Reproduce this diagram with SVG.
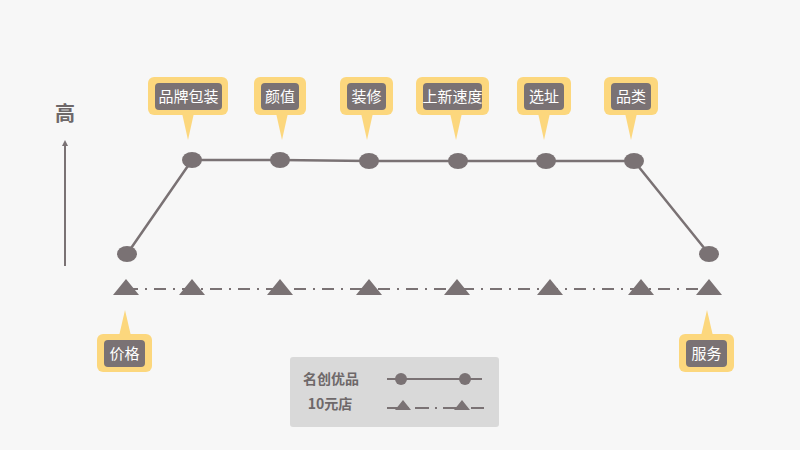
<svg xmlns="http://www.w3.org/2000/svg" width="800" height="450" viewBox="0 0 800 450">
<defs><style>
.o{fill:#fcd77d}.i{fill:#7a7274}.t{fill:#fff;font-family:"Noto Sans CJK SC",sans-serif;font-size:15px;text-anchor:middle}
.n{fill:#7a7274}.l{stroke:#7a7274;stroke-width:2.5;fill:none}
.d{stroke:#7a7274;stroke-width:2;stroke-dasharray:12 7 2 7;fill:none}
.g{fill:#6e6869;font-family:"Noto Sans CJK SC",sans-serif;font-weight:bold;font-size:14px;text-anchor:middle}
</style>
<marker id="ar" markerWidth="6" markerHeight="6" refX="3" refY="3" orient="auto" markerUnits="userSpaceOnUse"><path d="M0,0L6,3L0,6z" fill="#7a7274"/></marker>
</defs>
<rect width="800" height="450" fill="#f7f7f7"/>
<line x1="65" y1="266" x2="65" y2="143" stroke="#7a7274" stroke-width="2" marker-end="url(#ar)"/>
<text x="65" y="121" class="g" style="font-size:20px">高</text>
<g id="connectors">
<polyline class="l" points="127,254 192,160 280,160 369,161 458,161 546,161 634,161 709,254"/>
<line class="d" x1="126" y1="289" x2="712" y2="289"/>
</g>
<g id="nodes" class="n">
<ellipse cx="127" cy="254" rx="10" ry="8"/><ellipse cx="192" cy="160" rx="10" ry="8"/><ellipse cx="280" cy="160" rx="10" ry="8"/><ellipse cx="369" cy="161" rx="10" ry="8"/><ellipse cx="458" cy="161" rx="10" ry="8"/><ellipse cx="546" cy="161" rx="10" ry="8"/><ellipse cx="634" cy="161" rx="10" ry="8"/><ellipse cx="709" cy="254" rx="10" ry="8"/>
<path d="M126,279l13,16h-26z M192,279l13,16h-26z M280,279l13,16h-26z M369,279l13,16h-26z M457,279l13,16h-26z M550,279l13,16h-26z M641,279l13,16h-26z M709,279l13,16h-26z"/>
</g>
<g id="c1"><rect class="o" x="148" y="77" width="80" height="38" rx="6"/><path class="o" d="M182,113L188,140L194,113z"/><rect class="i" x="155" y="83" width="67" height="27" rx="4"/><text class="t" x="188.5" y="102">品牌包装</text></g>
<g id="c2"><rect class="o" x="254" y="77" width="52" height="38" rx="6"/><path class="o" d="M276,113L282,140L288,113z"/><rect class="i" x="261" y="83" width="38" height="27" rx="4"/><text class="t" x="280" y="102">颜值</text></g>
<g id="c3"><rect class="o" x="340" y="77" width="53" height="38" rx="6"/><path class="o" d="M361,113L367,140L373,113z"/><rect class="i" x="347" y="83" width="39" height="27" rx="4"/><text class="t" x="366.5" y="102">装修</text></g>
<g id="c4"><rect class="o" x="416" y="77" width="73" height="38" rx="6"/><path class="o" d="M450,113L456,140L462,113z"/><rect class="i" x="423" y="83" width="59" height="27" rx="4"/><text class="t" x="452.5" y="102">上新速度</text></g>
<g id="c5"><rect class="o" x="517" y="77" width="54" height="38" rx="6"/><path class="o" d="M538,113L544,140L550,113z"/><rect class="i" x="524" y="83" width="40" height="27" rx="4"/><text class="t" x="544" y="102">选址</text></g>
<g id="c6"><rect class="o" x="604" y="77" width="54" height="38" rx="6"/><path class="o" d="M625,113L631,140L637,113z"/><rect class="i" x="611" y="83" width="40" height="27" rx="4"/><text class="t" x="631" y="102">品类</text></g>
<g id="c7"><rect class="o" x="97" y="334" width="55" height="38" rx="6"/><path class="o" d="M119,336L125,310L131,336z"/><rect class="i" x="104" y="340" width="41" height="27" rx="4"/><text class="t" x="124.5" y="359">价格</text></g>
<g id="c8"><rect class="o" x="679" y="334" width="55" height="38" rx="6"/><path class="o" d="M701,336L707,310L713,336z"/><rect class="i" x="686" y="340" width="41" height="27" rx="4"/><text class="t" x="706.5" y="359">服务</text></g>
<g id="legend">
<rect x="290" y="357" width="209" height="70" rx="3" fill="#d9d9d9"/>
<text class="g" x="331" y="384">名创优品</text><text class="g" x="330" y="409">10元店</text>
<line class="l" x1="387" y1="379" x2="482" y2="379" style="stroke-width:2"/><circle class="n" cx="401" cy="379" r="6"/><circle class="n" cx="465" cy="379" r="6"/>
<line class="d" x1="387" y1="408" x2="484" y2="408" style="stroke-dasharray:14 6 2 6"/>
<path class="n" d="M403,400l8,10h-16z M462,400l8,10h-16z"/>
</g>
</svg>
